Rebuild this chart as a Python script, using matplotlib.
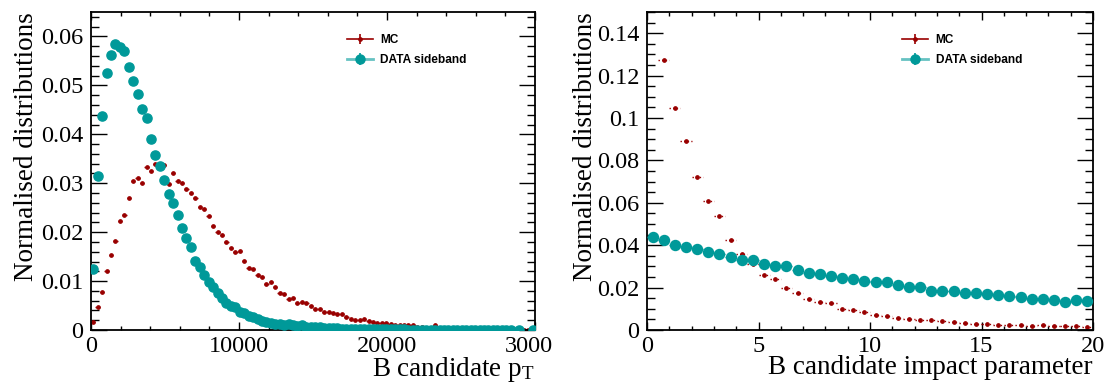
import numpy as np
import matplotlib
matplotlib.use("Agg")
import matplotlib.pyplot as plt
from matplotlib.lines import Line2D
from matplotlib.legend_handler import HandlerTuple
from matplotlib.ticker import MultipleLocator, FuncFormatter
from matplotlib.transforms import Bbox, TransformedBbox

nan = np.nan

# B candidate pT: 100 bins of 300 from 0 to 30000
pt_edges = np.linspace(0, 30000, 101)
pt_mc = [
    0.0016, 0.0046, 0.0078, 0.0121, 0.0153, 0.0181, 0.0222, 0.0236, 0.0270, 0.0304,
    0.0310, 0.0301, 0.0334, 0.0325, 0.0339, 0.0333, 0.0337, 0.0299, 0.0321, 0.0305,
    0.0301, 0.0288, 0.0281, 0.0269, 0.0252, 0.0248, 0.0232, 0.0213, 0.0200, 0.0194,
    0.0179, 0.0168, 0.0159, 0.0162, 0.0142, 0.0127, 0.0125, 0.0113, 0.0108, 0.0094,
    0.0099, 0.0087, 0.0076, 0.0074, 0.0064, 0.0066, 0.0055, 0.0058, 0.0055, 0.0050,
    0.0043, 0.0042, 0.0037, 0.0037, 0.0035, 0.0032, 0.0032, 0.0027, 0.0023, 0.0021,
    0.0020, 0.0022, 0.0019, 0.0016, 0.0014, 0.0014, 0.0014, 0.0012, 0.0010, 0.0010,
    0.0011, 0.0010, 0.0010, 0.0006, 0.0006, 0.0005, 0.0005, 0.0010, 0.0004, 0.0004,
    0.0004, 0.0003, 0.0003, 0.0003, 0.0003, 0.0003, 0.0002, 0.0002, 0.0002, 0.0002,
    0.0002, 0.0005, 0.0002, 0.0001, 0.0001, 0.0001, 0.0001, 0.0001, 0.0001, 0.0001,
]
pt_data = [
    0.0125, 0.0315, 0.0437, 0.0526, 0.0563, 0.0585, 0.0578, 0.0570, 0.0538, 0.0509,
    0.0482, 0.0451, 0.0433, 0.0390, 0.0358, 0.0335, 0.0306, 0.0279, 0.0259, 0.0235,
    0.0209, 0.0188, 0.0170, 0.0142, 0.0129, 0.0112, 0.0099, 0.0087, 0.0075, 0.0066,
    0.0055, 0.0049, 0.0046, 0.0037, 0.0034, 0.0029, 0.0026, 0.0022, 0.0019, 0.0017,
    0.0015, 0.0013, 0.0012, 0.0011, 0.0012, 0.0010, 0.0009, 0.0010, 0.0007, 0.0007,
    0.0006, 0.0006, 0.0005, 0.0005, 0.0004, 0.0004, 0.0003, 0.0003, 0.0003, 0.0003,
    0.0002, 0.0002, 0.0002, 0.0002, 0.0002, 0.0002, 0.0002, 0.0002, 0.0002, 0.0002,
    0.0002, 0.0001, 0.0001, 0.0001, 0.0001, 0.0001, 0.0001, 0.0001, 0.0001, 0.0001,
    0.0001, 0.0001, 0.0001, 0.0001, 0.0001, 0.0001, 0.0001, 0.0001, 0.0001, 0.0001,
    0.0001, 0.0001, 0.00005, 0.00005, 0.00005, nan, 0.00005, nan, nan, 0.00005,
]

# B candidate impact parameter: 40 bins of 0.5 from 0 to 20
ip_edges = np.linspace(0, 20, 41)
ip_mc = [
    nan, 0.1273, 0.1045, 0.0892, 0.0724, 0.0610, 0.0538, 0.0426, 0.0359, 0.0311,
    0.0258, 0.0242, 0.0198, 0.0176, 0.0148, 0.0132, 0.0126, 0.0098, 0.0093, 0.0085,
    0.0071, 0.0066, 0.0057, 0.0050, 0.0047, 0.0046, 0.0042, 0.0039, 0.0031, 0.0028,
    0.0028, 0.0024, 0.0025, 0.0022, 0.0019, 0.0022, 0.0019, 0.0017, 0.0017, 0.0016,
]
ip_data = [
    0.0440, 0.0425, 0.0401, 0.0392, 0.0384, 0.0370, 0.0357, 0.0343, 0.0330, 0.0330,
    0.0310, 0.0304, 0.0302, 0.0283, 0.0271, 0.0264, 0.0253, 0.0244, 0.0239, 0.0233,
    0.0228, 0.0225, 0.0211, 0.0205, 0.0201, 0.0182, 0.0182, 0.0182, 0.0175, 0.0175,
    0.0170, 0.0165, 0.0162, 0.0154, 0.0148, 0.0146, 0.0142, 0.0131, 0.0142, 0.0138,
]

mc_col = "#990000"
data_col = "#009999"
data_line_col = "#66c2c2"
serif = "Liberation Serif"

plt.rcParams["mathtext.fontset"] = "custom"
plt.rcParams["mathtext.rm"] = serif
plt.rcParams["mathtext.it"] = serif + ":italic"
plt.rcParams["axes.linewidth"] = 1.3

fig = plt.figure(figsize=(11.08, 3.9), dpi=100)
ax1 = fig.add_axes([91 / 1108, 60 / 390, 444 / 1108, 318 / 390])
ax2 = fig.add_axes([647 / 1108, 60 / 390, 446 / 1108, 318 / 390])


def draw_hist(ax, edges, mc, data, data_ms):
    centers = 0.5 * (edges[1:] + edges[:-1])
    half = 0.5 * np.diff(edges)
    mc_eb = ax.errorbar(centers, mc, xerr=half, fmt="o", ms=2.4, color=mc_col,
                        elinewidth=1.0, capsize=0, zorder=2)
    mc_eb[2][0].set_linestyle((0, (1, 1.6)))
    ax.errorbar(centers, data, xerr=half, fmt="o", ms=data_ms, color=data_col,
                elinewidth=1.0, capsize=0, zorder=3)


def style_axes(ax, xmax, ymax, xmaj, xmin, ymaj, ymin):
    ax.set_xlim(0, xmax)
    ax.set_ylim(0, ymax)
    ax.xaxis.set_major_locator(MultipleLocator(xmaj))
    ax.xaxis.set_minor_locator(MultipleLocator(xmin))
    ax.yaxis.set_major_locator(MultipleLocator(ymaj))
    ax.yaxis.set_minor_locator(MultipleLocator(ymin))
    fmt = FuncFormatter(lambda v, p: "%g" % round(v, 6))
    ax.xaxis.set_major_formatter(fmt)
    ax.yaxis.set_major_formatter(fmt)
    ax.tick_params(which="both", direction="in", top=True, right=True, width=1.0)
    ax.tick_params(axis="x", which="major", length=5.8, pad=4.5)
    ax.tick_params(axis="x", which="minor", length=2.9)
    ax.tick_params(axis="y", which="major", length=11.5, pad=5.5)
    ax.tick_params(axis="y", which="minor", length=5.8)
    for lab in ax.get_xticklabels() + ax.get_yticklabels():
        lab.set_fontfamily(serif)
        lab.set_fontsize(17.5)
    ax.set_ylabel("Normalised distributions", loc="top", fontfamily=serif, fontsize=19.5)


def add_legend(ax, x0):
    mc_h = (Line2D([], [], color=mc_col, lw=1.2),
            Line2D([], [], color=mc_col, marker="|", ms=7, mew=1.2, ls="none"),
            Line2D([], [], color=mc_col, marker="o", ms=2.4, ls="none"))
    data_h = (Line2D([], [], color=data_line_col, lw=2.0),
              Line2D([], [], color=data_col, marker="|", ms=8, mew=1.2, ls="none"),
              Line2D([], [], color=data_col, marker="o", ms=6.5, ls="none"))
    ax.legend([mc_h, data_h], ["MC", "DATA sideband"],
              handler_map={tuple: HandlerTuple(ndivide=1)},
              loc="upper left", bbox_to_anchor=(x0, 0.93), frameon=False,
              borderpad=0, borderaxespad=0, handlelength=2.2, handletextpad=0.6,
              labelspacing=0.68, prop={"family": "Liberation Sans", "weight": "bold", "size": 8.6})


draw_hist(ax1, pt_edges, pt_mc, pt_data, 6.6)
style_axes(ax1, 30000, 0.065, 10000, 2000, 0.01, 0.002)
ax1.set_xlabel(r"B candidate p$_{\mathrm{T}}$", loc="right", fontfamily=serif, fontsize=19.5)
ax1.xaxis.set_label_coords(1.0, -0.08)
ax1.yaxis.set_label_coords(-0.118, 1.0)
add_legend(ax1, 0.576)

draw_hist(ax2, ip_edges, ip_mc, ip_data, 7.2)
style_axes(ax2, 20, 0.15, 5, 1, 0.02, 0.005)
ax2.set_xlabel("B candidate impact parameter", loc="right", fontfamily=serif, fontsize=19.5)
ax2.xaxis.set_label_coords(1.0, -0.08)
ax2.yaxis.set_label_coords(-0.11, 1.0)
add_legend(ax2, 0.572)

# the left pad ends half-way across, so its last tick label is cut there
pad_box = TransformedBbox(Bbox([[0, 0], [552 / 1108, 1]]), fig.transFigure)
for lab in ax1.get_xticklabels():
    lab.set_clip_box(pad_box)
    lab.set_clip_on(True)

fig.savefig("out.png", dpi=100)
